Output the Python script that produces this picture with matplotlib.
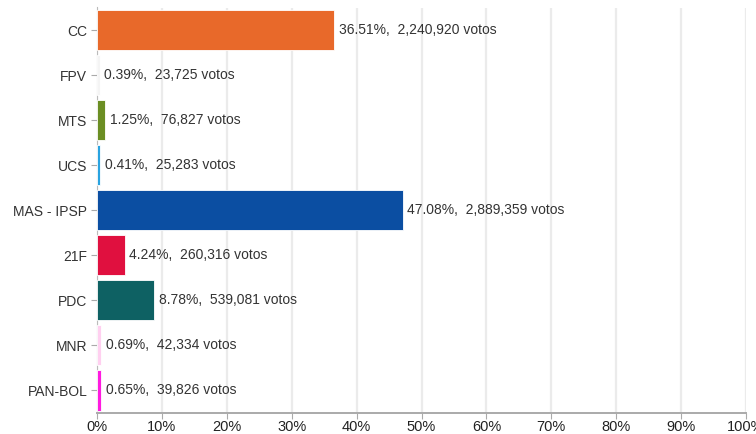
import matplotlib
matplotlib.use("Agg")
import matplotlib.pyplot as plt
from matplotlib.ticker import FuncFormatter

parties = ["CC", "FPV", "MTS", "UCS", "MAS - IPSP", "21F", "PDC", "MNR", "PAN-BOL"]
percents = [36.51, 0.39, 1.25, 0.41, 47.08, 4.24, 8.78, 0.69, 0.65]
votes = [2240920, 23725, 76827, 25283, 2889359, 260316, 539081, 42334, 39826]
colors = ["#E8692A", "#F4F4F4", "#6B8E23", "#29A3E0", "#0B4EA2",
          "#E0103F", "#0E6163", "#FFD0F0", "#FF1AE0"]

plt.rcParams["font.family"] = ["Liberation Sans", "DejaVu Sans"]

fig = plt.figure(figsize=(7.56, 4.34), dpi=100)
ax = fig.add_axes([97 / 756, 1 - 413 / 434, (746 - 97) / 756, (413 - 7.5) / 434])

y = list(range(len(parties)))
ax.barh(y, percents, height=0.89, color=colors, edgecolor="white", linewidth=0.6, zorder=3)

for yi, p, v in zip(y, percents, votes):
    ax.text(p + 0.75, yi, f"{p:.2f}%,  {v:,} votos", va="center", ha="left",
            fontsize=10, color="#333333", zorder=4)

ax.set_xlim(0, 100)
ax.set_ylim(len(parties) - 0.5, -0.5)
ax.set_xticks(range(0, 101, 10))
ax.xaxis.set_major_formatter(FuncFormatter(lambda x, _: f"{x:.0f}%"))
ax.set_yticks(y)
ax.set_yticklabels(parties)

ax.grid(axis="x", color="#EBEBEB", linewidth=1.6, zorder=0)
ax.set_axisbelow(True)

for s in ["top", "right"]:
    ax.spines[s].set_visible(False)
ax.spines["left"].set_color("#BBBBBB")
ax.spines["bottom"].set_color("#AAAAAA")
ax.spines["bottom"].set_linewidth(1.4)

ax.tick_params(axis="y", length=4, color="#AAAAAA", labelsize=10, labelcolor="#333333", pad=3)
ax.tick_params(axis="x", length=4, color="#AAAAAA", labelsize=10.5, labelcolor="#222222", pad=1)

fig.savefig("out.png", dpi=100)
